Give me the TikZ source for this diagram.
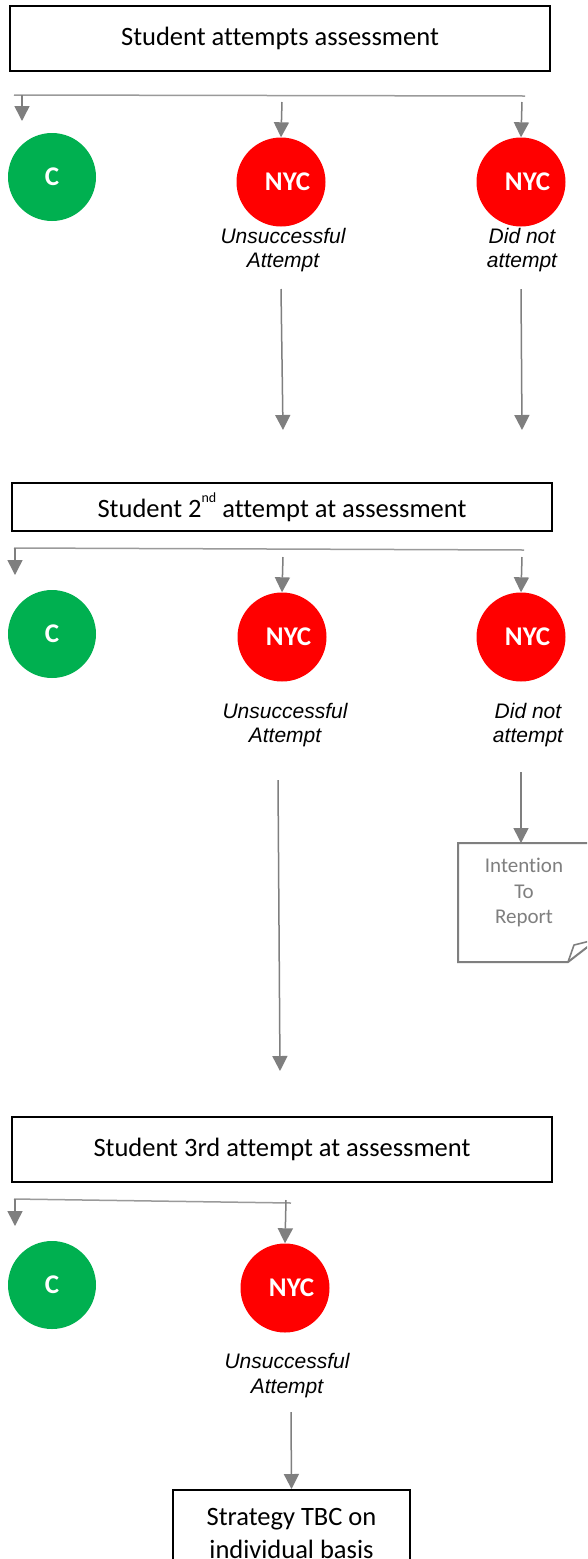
\documentclass[tikz,border=0pt]{standalone}
\usepackage{fontspec}
\setmainfont{Carlito}[Ligatures=NoCommon]
\newfontfamily\arialfont{Liberation Sans}
\usetikzlibrary{arrows.meta}
\definecolor{cgreen}{HTML}{00B050}
\definecolor{cred}{HTML}{FF0000}
\definecolor{cgray}{HTML}{7F7F7F}
\definecolor{lgray}{HTML}{9A9A9A}
\tikzset{
  stagebox/.style={draw=black, line width=2.4pt, minimum width=540pt, inner sep=0pt,
    font=\fontsize{26.5}{32}\selectfont},
  resultC/.style={circle, fill=cgreen, minimum size=88pt, inner sep=0pt, text=white,
    font=\fontsize{27}{27}\selectfont\bfseries},
  resultN/.style={circle, fill=cred, minimum size=89pt, inner sep=0pt, text=white,
    font=\fontsize{27}{27}\selectfont\bfseries},
  caption/.style={align=center, inner sep=0pt, font=\arialfont\itshape\fontsize{21}{24.5}\selectfont},
  myarrow/.style={draw=cgray, line width=1.5pt, -{Triangle[length=15pt,width=15pt]}},
  branchline/.style={draw=lgray, line width=1.5pt},
  notebox/.style={draw=cgray, line width=2pt, line join=miter},
  notetext/.style={align=center, inner sep=0pt, text=cgray, font=\fontsize{21}{25.5}\selectfont},
}
\newcommand{\nyc}{\hspace{13pt}NYC}
\begin{document}
\begin{tikzpicture}[x=1pt, y=-1pt]
\useasboundingbox (0,0) rectangle (587,1559);
\clip (0,0) rectangle (587,1559);
\fill[white] (0,0) rectangle (587,1559);

% ---------- Stage 1 ----------
\node[stagebox, minimum height=65pt] (box1) at (280,38.5) {Student attempts assessment};
\coordinate (b1l) at (14,95);
\coordinate (b1r) at (525,96);
\draw[branchline] (b1l) -- (b1r);
\coordinate (a1ls) at (22,95);
\coordinate (a1le) at (22,121);
\draw[myarrow] (a1ls) -- (a1le);

\node[resultC] (c1) at (52,177) {C};
\node[resultN] (n1a) at (281,182) {\nyc};
\node[resultN] (n1b) at (521,182) {\nyc};
\coordinate (a1ms) at (282,102);
\coordinate (a1rs) at (522,102);
\draw[myarrow] (a1ms) -- (n1a.north);
\draw[myarrow] (a1rs) -- (n1b.north);

\node[caption] (l1a) at (283,250) {Unsuccessful\\Attempt};
\node[caption] (l1b) at (522,250) {Did not\\attempt};

\coordinate (d1ms) at (281,289);
\coordinate (d1me) at (283,430);
\coordinate (d1rs) at (521,289);
\coordinate (d1re) at (522,430);
\draw[myarrow] (d1ms) -- (d1me);
\draw[myarrow] (d1rs) -- (d1re);

% ---------- Stage 2 ----------
\node[stagebox, minimum height=48pt] (box2) at (282,507)
  {Student 2\raisebox{15pt}{\fontsize{14}{14}\selectfont nd} attempt at assessment};
\coordinate (b2l) at (14,548);
\coordinate (b2r) at (524,550);
\draw[branchline] (b2l) -- (b2r);
\coordinate (a2ls) at (15,548);
\coordinate (a2le) at (15,575);
\draw[myarrow] (a2ls) -- (a2le);

\node[resultC] (c2) at (52,634) {C};
\node[resultN] (n2a) at (282,637) {\nyc};
\node[resultN] (n2b) at (521,637) {\nyc};
\coordinate (a2ms) at (283,557);
\coordinate (a2rs) at (522,557);
\draw[myarrow] (a2ms) -- (n2a.north);
\draw[myarrow] (a2rs) -- (n2b.north);

\node[caption] (l2a) at (285,725) {Unsuccessful\\Attempt};
\node[caption] (l2b) at (528,725) {Did not\\attempt};

% Intention to report note
\coordinate (noteTop) at (521,843);
\draw[notebox] (600,843) -- (458,843) -- (458,962) -- (568,962) -- (590,945);
\draw[notebox, line width=1.6pt] (568,962) -- (574,945) -- (590,941);
\node[notetext] (note) at (524,892.5) {Intention\\To\\Report};
\coordinate (a2ns) at (521,772);
\draw[myarrow] (a2ns) -- (noteTop);

\coordinate (d2ms) at (278,780);
\coordinate (d2me) at (280,1071);
\draw[myarrow] (d2ms) -- (d2me);

% ---------- Stage 3 ----------
\node[stagebox, minimum height=65pt] (box3) at (282,1149.5) {Student 3rd attempt at assessment};
\coordinate (b3l) at (14,1199);
\coordinate (b3r) at (291,1203);
\draw[branchline] (b3l) -- (b3r);
\coordinate (a3ls) at (15,1199);
\coordinate (a3le) at (15,1226);
\draw[myarrow] (a3ls) -- (a3le);

\node[resultC] (c3) at (52,1285) {C};
\node[resultN] (n3a) at (285,1288) {\nyc};
\coordinate (a3ms) at (286,1200);
\draw[myarrow] (a3ms) -- (n3a.north);

\node[caption] (l3a) at (287,1375.5) {Unsuccessful\\Attempt};

% Final box
\node[draw=black, line width=2.4pt, minimum width=237pt, minimum height=130pt, inner sep=0pt,
  anchor=north] (final) at (291.5,1489) {};
\node[align=center, inner sep=0pt, font=\fontsize{26.5}{33}\selectfont] (finaltext) at (291.5,1533.5)
  {Strategy TBC on\\individual basis};
\coordinate (a3fs) at (291,1412);
\draw[myarrow] (a3fs) -- (final.north);
\end{tikzpicture}
\end{document}
